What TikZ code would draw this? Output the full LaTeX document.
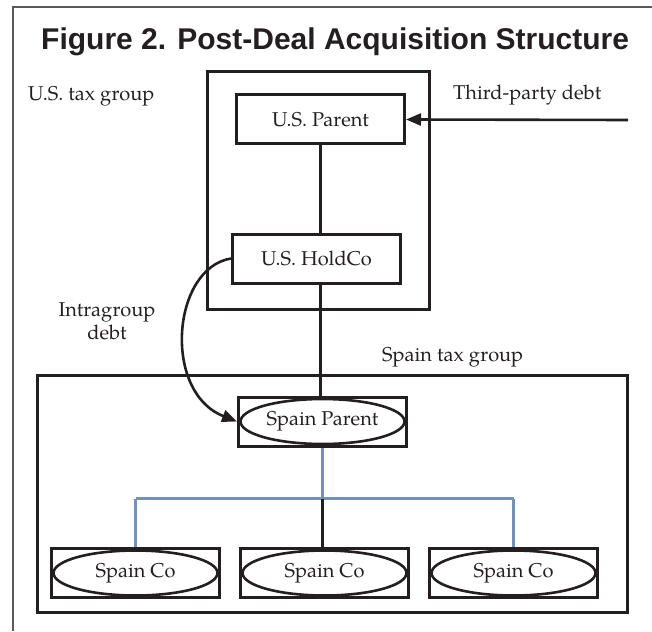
\documentclass[tikz,border=0pt]{standalone}
\usepackage{fontspec}
\setmainfont{texgyrepagella}[Extension=.otf, UprightFont=*-regular, BoldFont=*-bold, ItalicFont=*-italic, BoldItalicFont=*-bolditalic]
\newfontfamily\titlefont{Liberation Sans}
\usepackage{tikz}
\usetikzlibrary{shapes.geometric,arrows.meta,positioning,calc}
\definecolor{inkdark}{HTML}{231F20}
\definecolor{linkblue}{HTML}{7391BC}
\definecolor{framegrey}{HTML}{5A5A5A}
\tikzset{
  groupbox/.style={rectangle, draw=inkdark, line width=3pt, inner sep=0pt},
  entitybox/.style={rectangle, draw=inkdark, line width=3pt, minimum width=168pt, minimum height=49pt, inner sep=0pt, align=center, text=inkdark, font=\fontsize{20}{24}\selectfont},
  entityell/.style={ellipse, draw=inkdark, line width=2.6pt, minimum width=164pt, minimum height=45pt, inner sep=0pt, align=center, text=inkdark, font=\fontsize{20}{24}\selectfont},
  tag/.style={inner sep=0pt, align=center, text=inkdark, font=\fontsize{20}{23}\selectfont},
  link/.style={draw=inkdark, line width=2.6pt},
  sublink/.style={draw=linkblue, line width=2.8pt},
  flow/.style={draw=inkdark, line width=2.6pt, -{Triangle[length=15pt,width=12pt]}},
}

\begin{document}
\begin{tikzpicture}[x=1pt, y=-1pt]
  \useasboundingbox (0,0) rectangle (652,631);
  \draw[framegrey, line width=1.3pt] (652,7) -- (13,7) -- (13,631);
  \node[anchor=base west, inner sep=0pt, text=inkdark, font=\titlefont\bfseries\fontsize{30}{36}\selectfont] (title) at (41,50) {Figure 2. Post-Deal Acquisition Structure};

  % U.S. side
  \node[groupbox, minimum width=222pt, minimum height=237pt] (usgroup) at (318,190.5) {};
  \node[entitybox] (usparent) at (320.5,119.5) {U.S. Parent};
  \node[entitybox] (usholdco) at (316.5,258.5) {U.S. HoldCo};
  \node[tag, anchor=base west] (ustax) at (28,101) {U.S. tax group};
  \node[tag, anchor=base west] (thirdlbl) at (453,100) {Third-party debt};
  \coordinate (debtsrc) at (628,120);

  % Spain side
  \node[groupbox, minimum width=590pt, minimum height=237pt] (spaingroup) at (332,493.5) {};
  \node[tag, anchor=base west] (spaintax) at (382,361) {Spain tax group};
  \node[tag, anchor=base] (intralbl) at (107,339) {Intragroup\\debt};
  \node[entitybox] (spainparent) at (322.5,421.5) {};
  \node[entityell] (spainparentell) at (spainparent) {Spain Parent};
  \node[entitybox] (co2) at (324.5,573) {};
  \node[entitybox, left=18pt of co2] (co1) {};
  \node[entitybox, right=18pt of co2] (co3) {};
  \foreach \c in {co1,co2,co3}
    \node[entityell] (\c ell) at (\c) {Spain Co};
  \coordinate (split) at ($(spainparent.south)+(0,51)$);

  % connectors
  \draw[link] (usparent.south) -- (usparent.south |- usholdco.north);
  \draw[link] (usparent.south |- usholdco.south) -- (usparent.south |- spainparent.north);
  \draw[flow] (debtsrc) -- (usparent.east);
  \draw[flow] (usholdco.west) .. controls (172,268) and (162,392) .. (spainparent.west);
  \draw[sublink] (spainparent.south) -- (split);
  \draw[sublink] (co1.north |- split) -- (co3.north |- split);
  \draw[sublink] (co1.north |- split) -- (co1.north);
  \draw[sublink] (co3.north |- split) -- (co3.north);
  \draw[link] (split) -- (split |- co2.north);
\end{tikzpicture}
\end{document}
